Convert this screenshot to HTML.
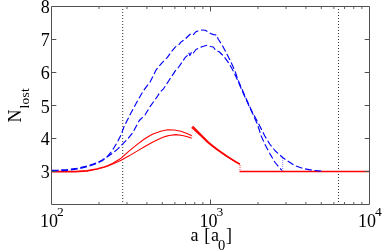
<!DOCTYPE html>
<html><head><meta charset="utf-8"><title>plot</title>
<style>html,body{margin:0;padding:0;background:#fff;}body{width:382px;height:251px;overflow:hidden;font-family:"Liberation Serif",serif;}svg{display:block}</style>
</head><body>
<svg width="382" height="251" viewBox="0 0 382 251">
<rect x="0" y="0" width="382" height="251" fill="#fff"/>
<g fill="none" stroke-linejoin="round">
<path d="M122.7 6V205M338.5 6V205" stroke="#333" stroke-width="1" stroke-dasharray="1 2"/>
<path d="M51.7 171.4 L75 171.4 L86.9 170.6 L96.9 168.7 L104.4 166.8 L108 165.6 L112.75 163.2 L121.1 158.2 L129.5 150.6 L137.9 143.9 L144 139.3 L148 136.8 L152.4 134.3 L156.5 132.7 L160.75 131.2 L167.5 129.8 L174.2 130 L180.9 131.3 L187.6 133.8 L191.7 135.8" stroke="#f00" stroke-width="1.1"/>
<path d="M51.7 171.9 L75 171.9 L86.9 171.1 L96.9 169.2 L104.4 167.3 L108 166.1 L112.75 164 L121.1 160.2 L129.5 155.6 L137.9 150.6 L144 147 L148 144.7 L152.4 142.2 L156.5 140.2 L160.75 138.2 L165 136.6 L169.1 135.5 L175.8 134.6 L182.5 135.5 L187.6 136.8 L191.7 138.3" stroke="#f00" stroke-width="1.1"/>
<path d="M192.65 126.25 L196.41 130.09 L202.04 135.66 L208.27 141.93 L211.93 144.97 L216.67 148.83 L221.91 152.64 L226.57 155.93 L231.87 159.33 L236.07 161.93 L239.97 164.03" stroke="#f00" stroke-width="1.4"/>
<path d="M191.75 127.15 L195.59 130.91 L201.36 136.34 L207.73 142.47 L211.47 145.43 L216.33 149.17 L221.69 152.86 L226.43 156.07 L231.73 159.47 L235.93 162.07 L239.83 164.17" stroke="#f00" stroke-width="1.4"/>
<path d="M239.5 171.6 L369.5 171.6" stroke="#f00" stroke-width="1.5"/>
<path d="M192 128V138" stroke="#f00" stroke-width="0.8" stroke-dasharray="1 1" opacity="0.35"/>
<path d="M240 165V171" stroke="#f00" stroke-width="1" stroke-dasharray="1 1" opacity="0.75"/>
<path d="M51.7 170.2 L58 170.1 L66.75 169.7 L78.5 168.1 L87.7 165.9 L96.9 162.8 L102.7 159.7 L107.7 156.2 L112.75 149.8 L117.8 141.4 L121.1 134.7 L123.9 127 L130 114.8 L136.75 102.2 L143.5 90.5 L150.2 81.8 L156 70.1 L158.2 67.3 L162 62.8 L167.2 57.7 L171.6 51.3 L175.5 46.9 L179.3 44.3 L180.6 42.4 L185 39.2 L188.2 36 L190.2 34.2 L192.7 35.4 L196 31.7 L200.2 30 L205.2 30.3 L210.5 33.5 L213.4 34.6 L216.4 34.9 L218.3 39.2 L222.5 45.7 L226.6 53.5 L230.8 61.8 L235 71 L237.8 79.4 L242.8 91.1 L247.1 100.8 L249.5 106.2 L252.1 111.7 L255.5 118 L258.5 123.5 L261.8 130 L264.8 136 L269.7 144 L275.1 150.75 L282.7 157.5 L288.5 161.6 L295.2 165.8 L303.6 168.6 L314 170.5 L322 171.2" stroke="#00f" stroke-width="1.15" stroke-dasharray="6.8 2.8"/>
<path d="M51.7 170.9 L58 170.8 L66.75 170.4 L78.5 168.8 L87.7 166.6 L96.9 163.5 L102.7 160.4 L107.7 156.5 L112.75 153.1 L117.8 148.9 L122.8 143.9 L127.8 138.9 L132.9 132.5 L134.2 130 L139.3 120.5 L145.1 114.8 L150.2 106.4 L156.9 97.2 L160.2 91.9 L163.5 88.8 L168.6 81 L175.3 70.9 L178.6 67.3 L182.5 61.5 L185 57.7 L187 55.8 L188.7 52.6 L189.9 55.5 L191.8 51.5 L193.4 53 L196 49.5 L201.9 46.8 L207.2 45.3 L210.5 46.5 L213.3 47 L215.6 50.1 L219.5 52 L224.1 56.6 L229.1 63.5 L233.3 71 L237.3 79.4 L242.3 91.1 L246.7 100.8 L249.2 106.2 L251.8 111.7 L254.6 118 L257.1 123.5 L259.3 130 L261.2 136 L264.8 144 L270.1 154.1 L275.1 162.5 L281.8 170.3" stroke="#00f" stroke-width="1.15" stroke-dasharray="6.8 2.8"/>
<path d="M282.7 158V171" stroke="#00f" stroke-width="0.8" stroke-dasharray="1 1" opacity="0.6"/>
<rect x="51.5" y="6.5" width="318" height="198" stroke="#505050" stroke-width="1"/>
<path d="M210.5 204.5v-5M210.5 6.5v5M51.5 171.5h4.8M369.5 171.5h-4.8M51.5 138.5h4.8M369.5 138.5h-4.8M51.5 105.5h4.8M369.5 105.5h-4.8M51.5 72.5h4.8M369.5 72.5h-4.8M51.5 39.5h4.8M369.5 39.5h-4.8" stroke="#505050" stroke-width="1"/>
<path d="M99.01 204.5v-2.5M99.01 6.5v2.5M127.01 204.5v-2.5M127.01 6.5v2.5M146.88 204.5v-2.5M146.88 6.5v2.5M162.29 204.5v-2.5M162.29 6.5v2.5M174.88 204.5v-2.5M174.88 6.5v2.5M185.52 204.5v-2.5M185.52 6.5v2.5M194.74 204.5v-2.5M194.74 6.5v2.5M202.87 204.5v-2.5M202.87 6.5v2.5M258.01 204.5v-2.5M258.01 6.5v2.5M286.01 204.5v-2.5M286.01 6.5v2.5M305.88 204.5v-2.5M305.88 6.5v2.5M321.29 204.5v-2.5M321.29 6.5v2.5M333.88 204.5v-2.5M333.88 6.5v2.5M344.52 204.5v-2.5M344.52 6.5v2.5M353.74 204.5v-2.5M353.74 6.5v2.5M361.87 204.5v-2.5M361.87 6.5v2.5" stroke="#606060" stroke-width="1"/>
</g>
<g font-family="'Liberation Serif', serif" fill="#000" font-size="18" style="filter:grayscale(1)">
<g text-anchor="end">
<text x="49.7" y="13">8</text>
<text x="49.7" y="46">7</text>
<text x="49.7" y="79">6</text>
<text x="49.7" y="112.6">5</text>
<text x="49.7" y="145">4</text>
<text x="49.7" y="178">3</text>
</g>
<text x="40.0" y="227">10<tspan font-size="13.5" dx="-0.9" dy="-11">2</tspan></text>
<text x="199.5" y="227">10<tspan font-size="13.5" dx="-0.9" dy="-11">3</tspan></text>
<text x="358.0" y="227">10<tspan font-size="13.5" dx="-0.9" dy="-11">4</tspan></text>
<text x="190.4" y="241">a</text><text x="204.2" y="241">[</text><text x="211" y="241">a</text><text x="218" y="249.5" font-size="14.5">0</text><text x="226" y="241">]</text>
<text transform="translate(21,122.5) rotate(-90)">N<tspan font-size="13.5" dx="1.1" dy="8.3" letter-spacing="0.25">lost</tspan></text>
</g>
</svg>
</body></html>
